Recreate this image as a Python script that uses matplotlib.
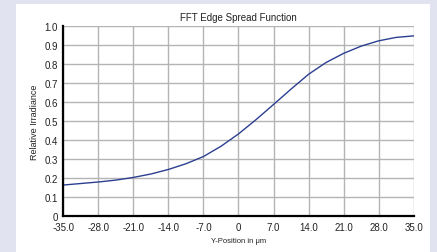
import matplotlib.pyplot as plt
from matplotlib.patches import Rectangle

plt.rcParams['font.family'] = ['Liberation Sans', 'DejaVu Sans']

# curve (position in um, relative irradiance)
pos = [-35.0, -31.5, -28.0, -24.5, -21.0, -17.5, -14.0, -10.5, -7.0, -3.5,
       0.0, 3.5, 7.0, 10.5, 14.0, 17.5, 21.0, 24.5, 28.0, 31.5, 35.0]
irr = [0.163, 0.171, 0.179, 0.189, 0.203, 0.221, 0.245, 0.275, 0.313, 0.367,
       0.432, 0.507, 0.587, 0.668, 0.746, 0.808, 0.856, 0.894, 0.922, 0.940, 0.948]

xticks = [-35, -28, -21, -14, -7, 0, 7, 14, 21, 28, 35]
xlabels = ['-35.0', '-28.0', '-21.0', '-14.0', '-7.0', '0', '7.0', '14.0', '21.0', '28.0', '35.0']
yticks = [0, 0.1, 0.2, 0.3, 0.4, 0.5, 0.6, 0.7, 0.8, 0.9, 1.0]
ylabels = ['0', '0.1', '0.2', '0.3', '0.4', '0.5', '0.6', '0.7', '0.8', '0.9', '1.0']

W, H = 437, 253
fig = plt.figure(figsize=(W / 100, H / 100), dpi=100)
fig.patch.set_facecolor('#e1e4f0')
fig.add_artist(Rectangle((16 / W, 0), (430 - 16) / W, (H - 5) / H,
                         transform=fig.transFigure, facecolor='white',
                         edgecolor='none', zorder=-5))

ax = fig.add_axes([63.3 / W, (H - 217) / H, (413.7 - 63.3) / W, (217 - 27) / H])
ax.set_zorder(2)
ax.set_facecolor('white')
ax.plot(pos, irr, color='#2b3f91', lw=1.0, zorder=3)

ax.set_xlim(-35, 35)
ax.set_ylim(0, 1.0)
ax.set_xticks(xticks)
ax.set_xticklabels(xlabels)
ax.set_yticks(yticks)
ax.set_yticklabels(ylabels)
ax.tick_params(length=0, labelsize=7, colors='#222222', pad=4)
ax.grid(True, color='#b4b4b4', lw=1.0)
ax.set_axisbelow(True)

for s in ['top', 'right']:
    ax.spines[s].set_visible(False)
for s in ['left', 'bottom']:
    ax.spines[s].set_color('black')
    ax.spines[s].set_linewidth(1.6)
    ax.spines[s].set_zorder(4)

ax.set_title('FFT Edge Spread Function', fontsize=7, color='#222222', pad=4)
ax.set_xlabel('Y-Position in μm', fontsize=5.5, color='#222222', labelpad=4)
ax.set_ylabel('Relative Irradiance', fontsize=6.5, color='#222222', labelpad=4)

fig.savefig('out.png', dpi=100)
